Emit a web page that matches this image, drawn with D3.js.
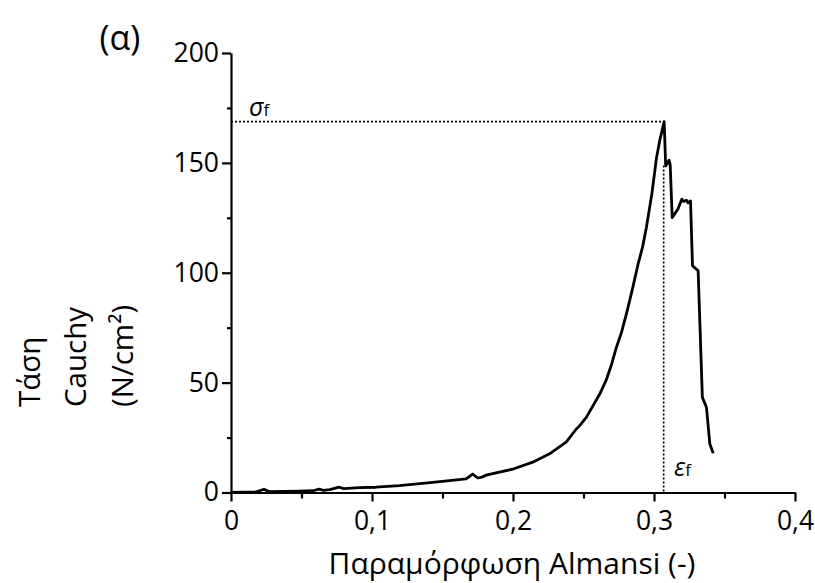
<!DOCTYPE html>
<html>
<head>
<meta charset="utf-8">
<script src="https://cdn.jsdelivr.net/npm/d3@7"></script>
<style>
  body { margin: 0; background: #fff; }
  svg text { font-family: "Open Sans", "Noto Sans", sans-serif; fill: #000; }
</style>
</head>
<body>
<svg id="chart" width="815" height="583"></svg>
<script>
// strain (Almansi) vs Cauchy stress
var strain = [0, 0.018, 0.0234, 0.027, 0.048, 0.058, 0.0625, 0.0656, 0.070, 0.0767, 0.080,
  0.0909, 0.1028, 0.1194, 0.143, 0.1667, 0.1714, 0.175, 0.178, 0.181, 0.1997, 0.214,
  0.2259, 0.2377, 0.2449, 0.2470, 0.2520, 0.2615, 0.266, 0.270, 0.2733, 0.277, 0.2804,
  0.2845, 0.2887, 0.292, 0.2946, 0.2985, 0.3017, 0.304, 0.3072, 0.3083, 0.3107, 0.3115,
  0.3129, 0.317, 0.3197, 0.321, 0.3230, 0.3242, 0.3259, 0.3273, 0.3313, 0.3343, 0.3372,
  0.3396, 0.3420];
var stress = [0, 0.3, 1.5, 0.4, 0.6, 0.8, 1.5, 1.0, 1.3, 2.4, 1.8,
  2.2, 2.4, 3.1, 4.6, 6.2, 8.4, 6.6, 7.0, 7.9, 10.6, 13.8,
  17.6, 22.9, 28.9, 30.2, 34.2, 44.8, 51, 58.5, 66, 73, 81.2,
  92, 103.9, 112, 120.6, 136, 152, 160, 168.8, 148.6, 151.2, 149,
  125.1, 129, 133.5, 132.5, 133, 131.8, 132.7, 103.2, 100.9, 43.3, 38.8,
  22.1, 17.9];

var xTicks = [0, 0.1, 0.2, 0.3, 0.4];
var xMinor = [0.05, 0.15, 0.25, 0.35];
var yTicks = [0, 50, 100, 150, 200];
var yMinor = [25, 75, 125, 175];

var failStrain = 0.3072;
var failStress = 168.8;

var panelLabel = "(α)";
var xTitle = "Παραμόρφωση Almansi (-)";
var yTitle = ["Τάση", "Cauchy", "(N/cm²)"];

var svg = d3.select("#chart");
var x = d3.scaleLinear().domain([0, 0.4]).range([231, 795]);
var y = d3.scaleLinear().domain([0, 200]).range([492.5, 53]);
var fmt = function(d) { return String(d).replace(".", ","); };

// minor ticks first so the major axis sits on top
svg.append("g").attr("transform", "translate(0," + y(0) + ")")
  .call(d3.axisBottom(x).tickValues(xMinor).tickSize(6).tickSizeOuter(0).tickFormat(""))
  .call(function(g) { g.select(".domain").remove(); });
svg.append("g").attr("transform", "translate(" + x(0) + ",0)")
  .call(d3.axisLeft(y).tickValues(yMinor).tickSize(4).tickSizeOuter(0).tickFormat(""))
  .call(function(g) { g.select(".domain").remove(); });

var xa = svg.append("g").attr("transform", "translate(0," + y(0) + ")")
  .call(d3.axisBottom(x).tickValues(xTicks).tickSize(9).tickSizeOuter(0).tickPadding(6).tickFormat(fmt));
var ya = svg.append("g").attr("transform", "translate(" + x(0) + ",0)")
  .call(d3.axisLeft(y).tickValues(yTicks).tickSize(9).tickSizeOuter(0).tickPadding(3).tickFormat(fmt));

svg.selectAll(".tick line, .domain").attr("stroke", "#000").attr("stroke-width", 2.2);
svg.selectAll(".tick text").attr("font-size", 26.5).attr("font-family", "'Open Sans', sans-serif");
xa.selectAll(".tick text").attr("dy", "0.85em");

// dotted guides to the failure point
svg.append("line")
  .attr("x1", x(0)).attr("x2", x(failStrain))
  .attr("y1", y(failStress)).attr("y2", y(failStress))
  .attr("stroke", "#000").attr("stroke-width", 1.7).attr("stroke-dasharray", "2,2");
svg.append("line")
  .attr("x1", x(failStrain) - 0.5).attr("x2", x(failStrain) - 0.5)
  .attr("y1", y(failStress) + 44).attr("y2", y(0))
  .attr("stroke", "#000").attr("stroke-width", 1.7).attr("stroke-dasharray", "2,2");

var pts = strain.map(function(s, i) { return [s, stress[i]]; });
svg.append("path")
  .datum(pts)
  .attr("fill", "none")
  .attr("stroke", "#000")
  .attr("stroke-width", 2.8)
  .attr("stroke-linejoin", "round")
  .attr("d", d3.line().x(function(d) { return x(d[0]); }).y(function(d) { return y(d[1]); }));

// σf and εf labels
var sig = svg.append("text").attr("x", 249).attr("y", 116).attr("font-size", 25);
sig.append("tspan").attr("font-style", "italic").text("σ");
sig.append("tspan").attr("font-size", 17).text("f");
var eps = svg.append("text").attr("x", 674).attr("y", 476).attr("font-size", 25);
eps.append("tspan").attr("font-style", "italic").text("ε");
eps.append("tspan").attr("font-size", 17).text("f");

svg.append("text").attr("x", 120).attr("y", 50).attr("text-anchor", "middle")
  .attr("font-size", 34).text(panelLabel);

svg.append("text").attr("x", 512).attr("y", 574)
  .attr("text-anchor", "middle").attr("font-size", 30).text(xTitle);

var ycols = [40, 86, 133];
yTitle.forEach(function(t, i) {
  svg.append("text")
    .attr("transform", "translate(" + ycols[i] + ",407) rotate(-90)")
    .attr("font-size", 29.5).text(t);
});
</script>
</body>
</html>
